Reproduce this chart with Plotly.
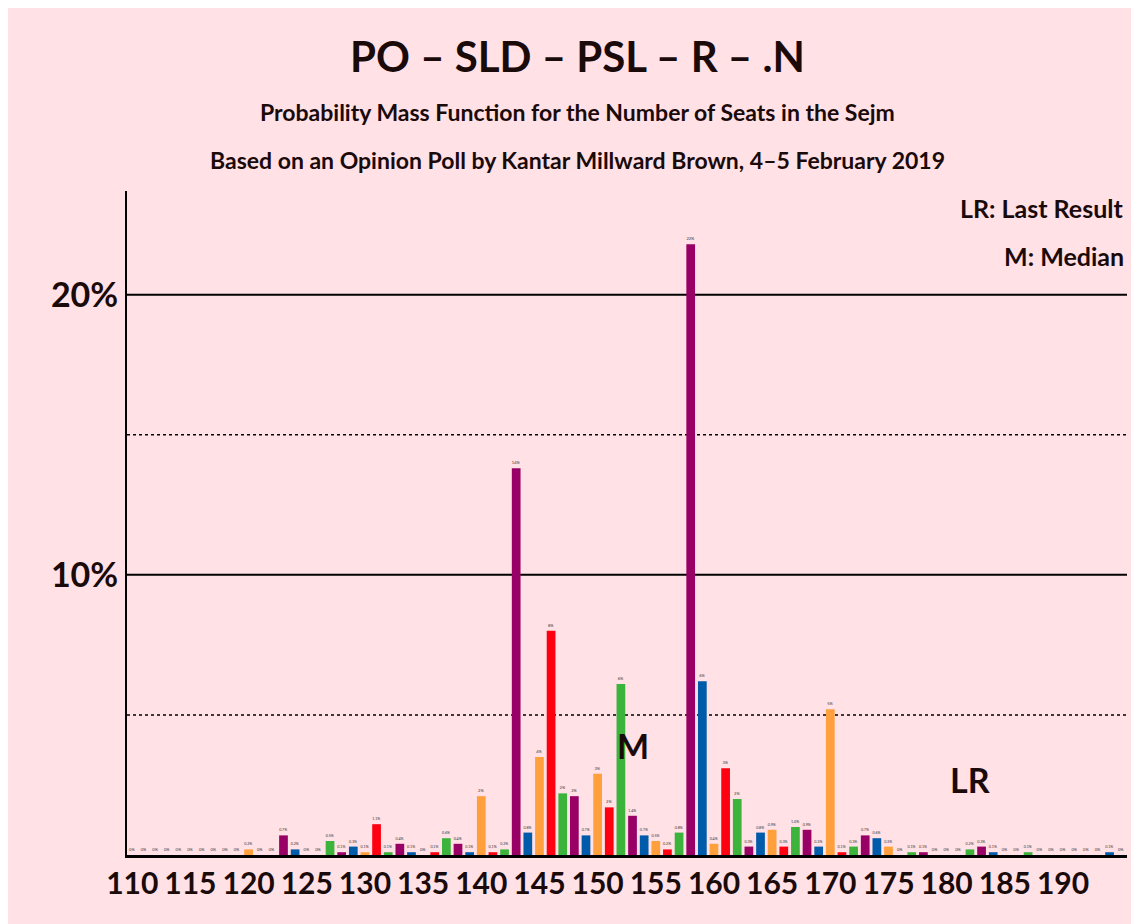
import plotly.graph_objects as go

seats = list(range(110, 196))
probs = [0,0,0,0,0,0,0,0,0,0,
         0.2,0,0,0.7,0.2,0,0,0.5,0.1,0.3,
         0.1,1.1,0.1,0.4,0.1,0,0.1,0.6,0.4,0.1,
         2.1,0.1,0.2,13.8,0.8,3.5,8.0,2.2,2.1,0.7,
         2.9,1.7,6.1,1.4,0.7,0.5,0.2,0.8,21.8,6.2,
         0.4,3.1,2.0,0.3,0.8,0.9,0.3,1.0,0.9,0.3,
         5.2,0.1,0.3,0.7,0.6,0.3,0,0.1,0.1,0,
         0,0,0.2,0.3,0.1,0,0,0.1,0,0,
         0,0,0,0,0.1,0]
median_seat = 153
last_result_seat = 182
tick_vals = list(range(110, 196, 5))

cycle = {3: "#990066", 4: "#005BAA", 0: "#FFA03C", 1: "#FF0011", 2: "#3CB43C"}
colors = [cycle[s % 5] for s in seats]

def lab(v):
    if v == 0:
        return "0%"
    if v < 1.5:
        return f"{v:.1f}%"
    return f"{round(v)}%"

fig = go.Figure(go.Bar(x=seats, y=probs, marker_color=colors, marker_line_width=0,
                       width=0.75, text=[lab(v) for v in probs], textposition="outside",
                       textfont=dict(size=4, color="#333"), cliponaxis=False))

for y, d in [(5, "dot"), (15, "dot"), (10, "solid"), (20, "solid")]:
    fig.add_hline(y=y, line=dict(color="black", width=2 if d == "solid" else 1.5, dash=d), layer="below")

fig.add_annotation(x=median_seat, y=3.9, text="M", showarrow=False,
                   font=dict(size=34, color="#1a0a0a", family="Lato", weight="bold"))
fig.add_annotation(x=last_result_seat, y=2.7, text="LR", showarrow=False,
                   font=dict(size=34, color="#1a0a0a", family="Lato", weight="bold"))

L, T, R, B = 119, 183, 1119, 847
def px(x): return (x - L) / (R - L)
def py(y): return (B - y) / (B - T)

texts = [
    ("PO – SLD – PSL – R – .N", 569, 48, 42),
    ("Probability Mass Function for the Number of Seats in the Sejm", 569, 104, 23),
    ("Based on an Opinion Poll by Kantar Millward Brown, 4–5 February 2019", 569, 152, 23),
]
for t, x, y, s in texts:
    fig.add_annotation(text=t, x=px(x), y=py(y), xref="paper", yref="paper", xanchor="center",
                       yanchor="middle", showarrow=False,
                       font=dict(size=s, family="Lato", color="#1a0a0a", weight="bold"))
fig.add_annotation(text="LR: Last Result", x=px(1118), y=py(200), xref="paper", yref="paper",
                   xanchor="right", yanchor="middle", showarrow=False,
                   font=dict(size=25, family="Lato", weight="bold"))
fig.add_annotation(text="M: Median", x=px(1118), y=py(248), xref="paper", yref="paper",
                   xanchor="right", yanchor="middle", showarrow=False,
                   font=dict(size=25, family="Lato", weight="bold"))
fig.add_annotation(text="© 2019 Filip van Laenen", x=px(1131), y=py(50), xref="paper", yref="paper",
                   textangle=-90, xanchor="center", yanchor="middle", showarrow=False,
                   font=dict(size=9, family="Lato", color="#333"))

fig.update_layout(
    width=1139, height=924,
    paper_bgcolor="#FFE1E6", plot_bgcolor="#FFE1E6",
    margin=dict(l=L, r=1139 - R, t=T, b=924 - B),
    showlegend=False,
    font=dict(family="Lato", color="#1a0a0a"),
    xaxis=dict(range=[109.55, 195.5], tickvals=tick_vals, showgrid=False, zeroline=False,
               showline=True, linecolor="black", linewidth=3,
               tickfont=dict(size=30, family="Lato", color="#1a0a0a", weight="bold"), ticks=""),
    yaxis=dict(range=[0, 23.7], tickvals=[10, 20], ticktext=["10%", "20%"], showgrid=False,
               zeroline=False, showline=True, linecolor="black", linewidth=2,
               tickfont=dict(size=34, family="Lato", color="#1a0a0a", weight="bold"), ticks=""),
)
fig.write_html("out.html", config={"responsive": False})
